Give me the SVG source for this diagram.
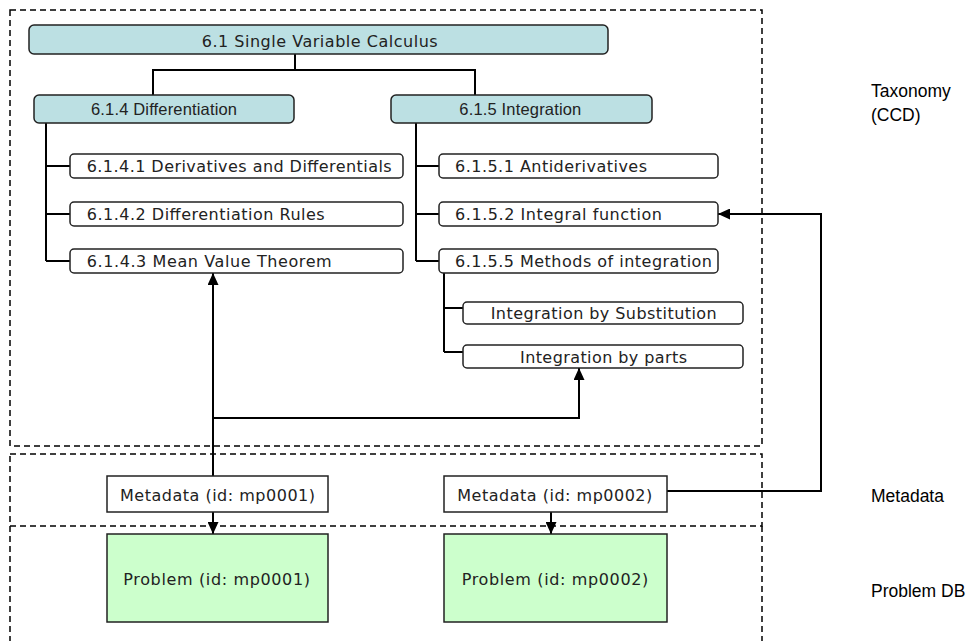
<svg xmlns="http://www.w3.org/2000/svg" width="974" height="641" viewBox="0 0 974 641">
<style>
.dash{fill:none;stroke:#000;stroke-width:1.5;stroke-dasharray:6 4}
.top{fill:#bce0e3;stroke:#222;stroke-width:1.5}
.leaf{fill:#fff;stroke:#222;stroke-width:1.5}
.meta{fill:#fff;stroke:#222;stroke-width:1.5}
.prob{fill:#ccffcc;stroke:#222;stroke-width:1.5}
.t1{font-family:"DejaVu Sans",Verdana,sans-serif;font-size:16px;fill:#222}
.t2{font-family:"Liberation Sans",Arial,sans-serif;font-size:16.5px;fill:#222}
.lab{font-family:"Liberation Sans",Arial,sans-serif;font-size:17.5px;fill:#000}
.conn{fill:none;stroke:#000;stroke-width:2}
</style>
<defs>
<marker id="arr" markerUnits="userSpaceOnUse" markerWidth="12" markerHeight="11" refX="12" refY="5.5" orient="auto">
<path d="M0,0 L12,5.5 L0,11 z" fill="#000"/>
</marker>
</defs>
<g id="sections">
<rect class="dash" x="10" y="10" width="752" height="436"/>
<rect class="dash" x="10" y="454" width="752" height="72"/>
<path class="dash" d="M10,526 V645 M762,526 V645"/>
<text class="lab" x="871" y="97">Taxonomy</text>
<text class="lab" x="871" y="121">(CCD)</text>
<text class="lab" x="871" y="502">Metadata</text>
<text class="lab" x="871" y="597">Problem DB</text>
</g>
<g id="connectors">
<path class="conn" d="M295,54 V70 M153,95 V70 H475 V95"/>
<path class="conn" d="M46,123 V261 M46,166 H70 M46,214 H70 M46,261 H70"/>
<path class="conn" d="M416,123 V261 M416,166 H439 M416,214 H439 M416,261 H439"/>
<path class="conn" d="M444,273 V352 M444,308 H463 M444,352 H463"/>
<path class="conn" d="M213,476 V273" marker-end="url(#arr)"/>
<path class="conn" d="M213,418 H579 V368" marker-end="url(#arr)"/>
<path class="conn" d="M667,491 H821 V214 H718" marker-end="url(#arr)"/>
<path class="conn" d="M213,512 V534" marker-end="url(#arr)"/>
<path class="conn" d="M551,512 V534" marker-end="url(#arr)"/>
</g>
<g id="n61">
<rect class="top" x="29" y="25" width="579" height="29" rx="5"/>
<text class="t1" x="201.7" y="47" textLength="236" lengthAdjust="spacing">6.1 Single Variable Calculus</text>
</g>
<g id="n614">
<rect class="top" x="34" y="95" width="260" height="28" rx="5"/>
<text class="t2" x="91" y="115" textLength="146" lengthAdjust="spacing">6.1.4 Differentiation</text>
</g>
<g id="n615">
<rect class="top" x="391" y="95" width="261" height="28" rx="5"/>
<text class="t2" x="459.3" y="115" textLength="122" lengthAdjust="spacing">6.1.5 Integration</text>
</g>
<g id="n6141">
<rect class="leaf" x="70" y="154" width="333" height="24" rx="4"/>
<text class="t1" x="86.7" y="172" textLength="305" lengthAdjust="spacing">6.1.4.1 Derivatives and Differentials</text>
</g>
<g id="n6142">
<rect class="leaf" x="70" y="202" width="333" height="24" rx="4"/>
<text class="t1" x="86.7" y="220" textLength="238" lengthAdjust="spacing">6.1.4.2 Differentiation Rules</text>
</g>
<g id="n6143">
<rect class="leaf" x="70" y="249" width="333" height="24" rx="4"/>
<text class="t1" x="86.7" y="267" textLength="245" lengthAdjust="spacing">6.1.4.3 Mean Value Theorem</text>
</g>
<g id="n6151">
<rect class="leaf" x="439" y="154" width="279" height="24" rx="4"/>
<text class="t1" x="455" y="172" textLength="192" lengthAdjust="spacing">6.1.5.1 Antiderivatives</text>
</g>
<g id="n6152">
<rect class="leaf" x="439" y="202" width="279" height="24" rx="4"/>
<text class="t1" x="455" y="220" textLength="207" lengthAdjust="spacing">6.1.5.2 Integral function</text>
</g>
<g id="n6155">
<rect class="leaf" x="439" y="249" width="279" height="24" rx="4"/>
<text class="t1" x="455" y="267" textLength="257" lengthAdjust="spacing">6.1.5.5 Methods of integration</text>
</g>
<g id="nsubst">
<rect class="leaf" x="463" y="302" width="280" height="22" rx="4"/>
<text class="t1" x="490.7" y="318.5" textLength="226" lengthAdjust="spacing">Integration by Substitution</text>
</g>
<g id="nparts">
<rect class="leaf" x="463" y="345" width="280" height="23" rx="4"/>
<text class="t1" x="520" y="362.5" textLength="167" lengthAdjust="spacing">Integration by parts</text>
</g>
<g id="meta1">
<rect class="meta" x="107" y="476" width="221" height="36"/>
<text class="t1" x="120" y="500.5" textLength="195" lengthAdjust="spacing">Metadata (id: mp0001)</text>
</g>
<g id="meta2">
<rect class="meta" x="444" y="476" width="223" height="36"/>
<text class="t1" x="457.3" y="501" textLength="195" lengthAdjust="spacing">Metadata (id: mp0002)</text>
</g>
<g id="prob1">
<rect class="prob" x="107" y="534" width="221" height="88"/>
<text class="t1" x="123.3" y="585" textLength="186.7" lengthAdjust="spacing">Problem (id: mp0001)</text>
</g>
<g id="prob2">
<rect class="prob" x="444" y="534" width="223" height="88"/>
<text class="t1" x="461.7" y="585" textLength="186.6" lengthAdjust="spacing">Problem (id: mp0002)</text>
</g>
</svg>
